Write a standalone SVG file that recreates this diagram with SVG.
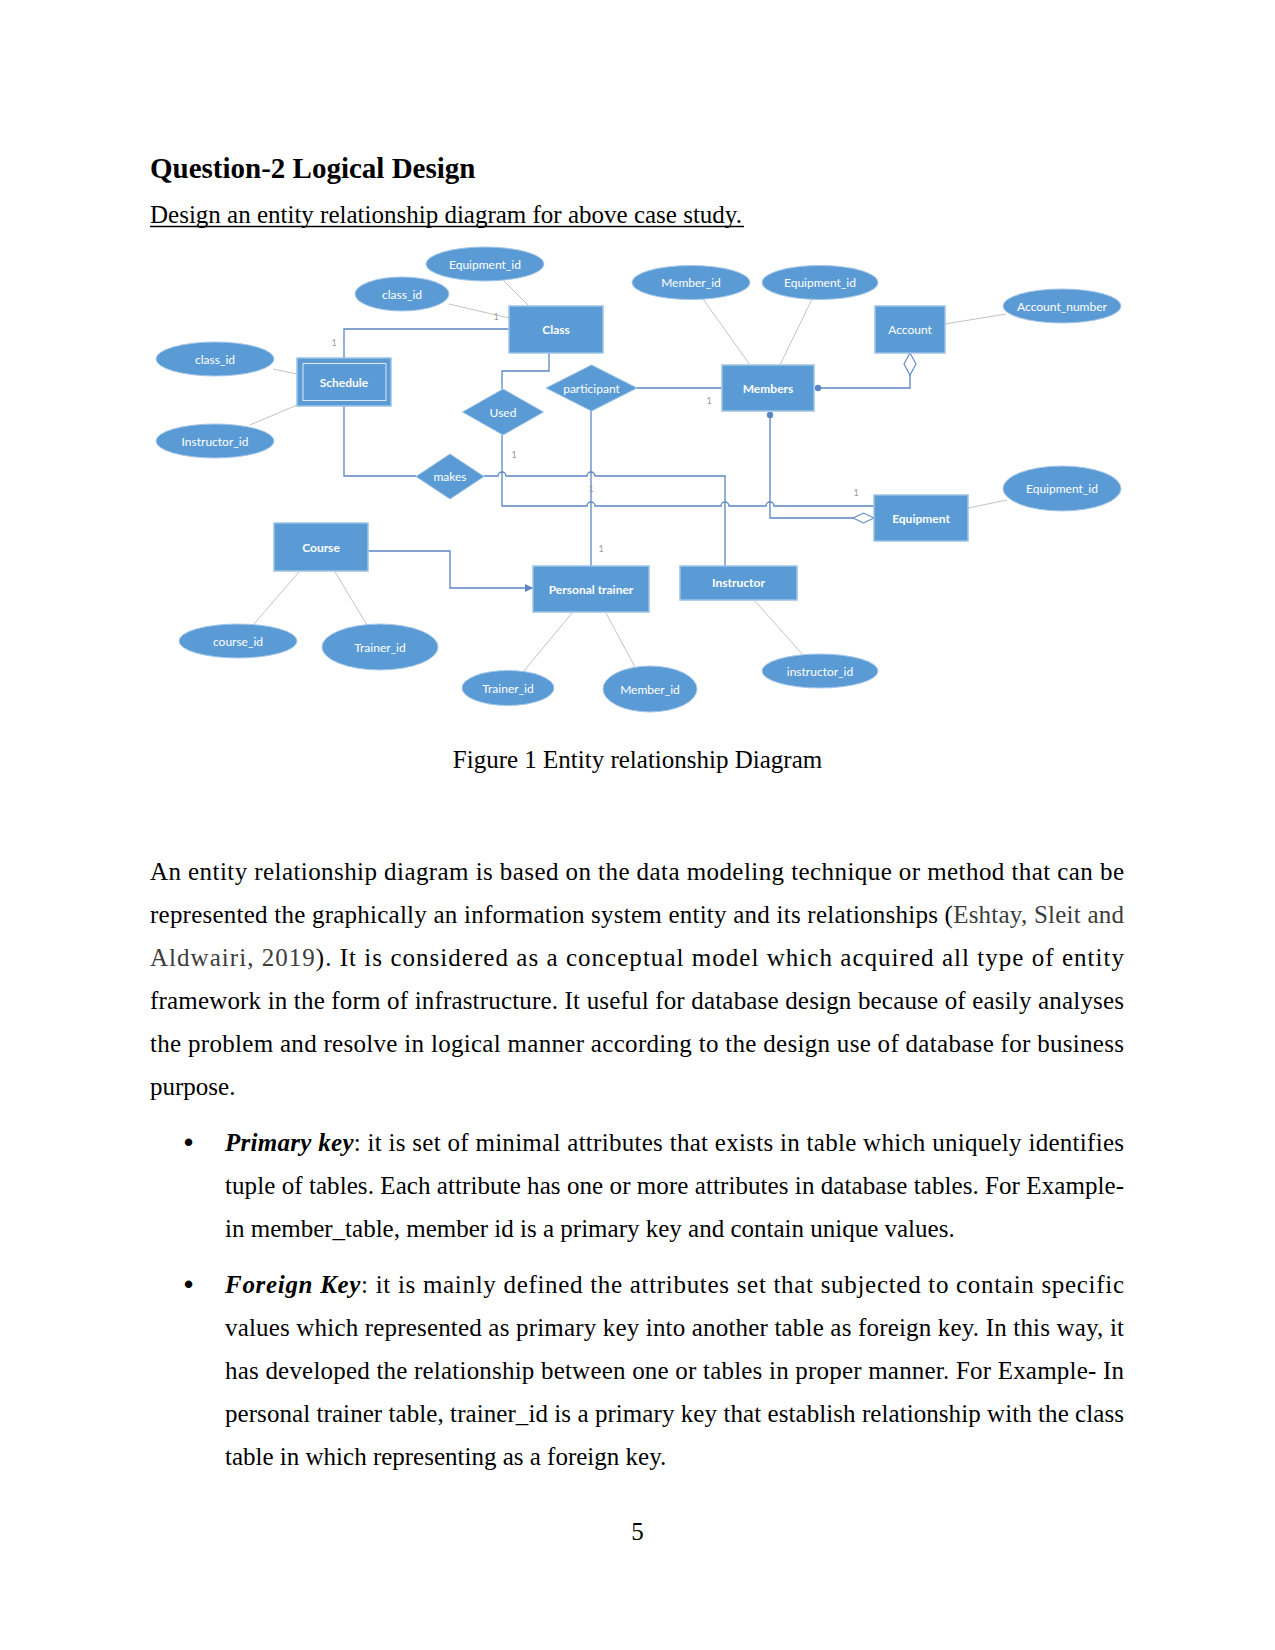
<svg xmlns="http://www.w3.org/2000/svg" width="1275" height="1650" viewBox="0 0 1275 1650">
<style>
  .doc { font-family: "Liberation Serif", "Times New Roman", serif; font-size: 25px; fill: #000; }
  .title { font-size: 29px; font-weight: bold; }
  .cite { fill: #3c3c3c; }
  .bi { font-weight: bold; font-style: italic; }
  .bullet { font-family: "Liberation Sans", Arial, sans-serif; font-size: 26px; font-weight: bold; }
  .ent rect.box { fill: #5B9BD5; stroke: #9DC3E6; stroke-width: 1.5; }
  .ent text { font-family: Lato, "Open Sans", sans-serif; font-size: 12px; font-weight: bold; fill: #fff; text-anchor: middle; dominant-baseline: central; }
  .ent text.reg { font-weight: normal; }
  .attr ellipse { fill: #5B9BD5; stroke: #A8C8EA; stroke-width: 1; }
  .attr text, .rel text { font-family: Lato, "Open Sans", sans-serif; font-size: 12px; fill: #fff; text-anchor: middle; dominant-baseline: central; }
  .rel polygon { fill: #5B9BD5; stroke: #9DC3E6; stroke-width: 1; }
  .conn path { fill: none; stroke: #5B86C4; stroke-width: 1.3; }
  .conn .dot { fill: #5B86C4; stroke: none; }
  .conn .hd { fill: #fff; stroke: #5B86C4; stroke-width: 1.1; }
  .alink line { stroke: #C3C3C3; stroke-width: 1; }
  .card { font-family: Lato, "Open Sans", sans-serif; font-size: 9px; fill: #9a9a9a; text-anchor: middle; }
</style>
<defs>
  <marker id="arr" viewBox="0 0 10 10" refX="10" refY="5" markerWidth="8" markerHeight="8" markerUnits="userSpaceOnUse" orient="auto">
    <path d="M0,0 L10,5 L0,10 z" fill="#5B86C4"/>
  </marker>
</defs>
<rect width="1275" height="1650" fill="#fff"/>

<!-- header -->
<text class="doc title" x="150" y="178">Question-2 Logical Design</text>
<text class="doc" x="150" y="223">Design an entity relationship diagram for above case study.</text>
<line x1="150" y1="226.5" x2="744" y2="226.5" stroke="#000" stroke-width="1.3"/>

<!-- attribute lines -->
<g class="alink" id="attribute-links">
  <line x1="449" y1="304" x2="509" y2="318"/>
  <line x1="504" y1="281" x2="529" y2="306"/>
  <line x1="273" y1="369" x2="297" y2="374"/>
  <line x1="250" y1="425" x2="297" y2="405"/>
  <line x1="703" y1="299" x2="750" y2="365"/>
  <line x1="812" y1="299" x2="780" y2="365"/>
  <line x1="945" y1="324" x2="1006" y2="314"/>
  <line x1="968" y1="508" x2="1007" y2="500"/>
  <line x1="299" y1="572" x2="253" y2="625"/>
  <line x1="335" y1="572" x2="367" y2="625"/>
  <line x1="572" y1="613" x2="523" y2="672"/>
  <line x1="606" y1="613" x2="636" y2="669"/>
  <line x1="755" y1="601" x2="803" y2="655"/>
</g>

<!-- connectors -->
<g class="conn" id="connectors">
  <path d="M509,329 H344 V358"/>
  <path d="M549,353 V371 H502 V389"/>
  <path d="M502,435 V506 H587 a4,4 0 0 1 8,0 H721 a4,4 0 0 1 8,0 H766 a4,4 0 0 1 8,0 H874"/>
  <path d="M344,406 V476 H416"/>
  <path d="M484,476 H498 a4,4 0 0 1 8,0 H587 a4,4 0 0 1 8,0 H725 V566"/>
  <path d="M591,411 V566"/>
  <path d="M637,388 H722"/>
  <circle class="dot" cx="818" cy="388" r="3.2"/>
  <path d="M818,388 H910 V375"/>
  <polygon class="hd" points="910,353 916,364 910,375 904,364"/>
  <circle class="dot" cx="770" cy="415" r="3.2"/>
  <path d="M770,415 V518 H853"/>
  <polygon class="hd" points="853,518 863.5,513 874,518 863.5,523"/>
  <path d="M368,551 H450 V588 H533" marker-end="url(#arr)"/>
</g>

<!-- cardinality labels -->
<g id="cardinalities">
  <text class="card" x="496" y="320">1</text>
  <text class="card" x="334" y="346">1</text>
  <text class="card" x="514" y="458">1</text>
  <text class="card" x="591" y="492">1</text>
  <text class="card" x="601" y="552">1</text>
  <text class="card" x="709" y="404">1</text>
  <text class="card" x="856" y="496">1</text>
</g>

<!-- entities -->
<g class="ent" id="class"><rect class="box" x="509" y="306" width="94" height="47"/><text x="556" y="329.5">Class</text></g>
<g class="ent" id="schedule"><rect class="box" x="297" y="358" width="94" height="48"/><rect x="303" y="363.5" width="83" height="37" fill="none" stroke="#DCE9F6" stroke-width="1"/><text x="344" y="382">Schedule</text></g>
<g class="ent" id="account"><rect class="box" x="875" y="306" width="70" height="47"/><text class="reg" x="910" y="329.5">Account</text></g>
<g class="ent" id="members"><rect class="box" x="722" y="365" width="92" height="46"/><text x="768" y="388">Members</text></g>
<g class="ent" id="equipment"><rect class="box" x="874" y="495" width="94" height="46"/><text x="921" y="518">Equipment</text></g>
<g class="ent" id="course"><rect class="box" x="274" y="523" width="94" height="48"/><text x="321" y="547">Course</text></g>
<g class="ent" id="personal-trainer"><rect class="box" x="533" y="566" width="116" height="46"/><text x="591" y="589">Personal trainer</text></g>
<g class="ent" id="instructor"><rect class="box" x="680" y="566" width="117" height="34"/><text x="738.5" y="582">Instructor</text></g>

<!-- relationships -->
<g class="rel" id="participant"><polygon points="546,388 591.5,365 637,388 591.5,411"/><text x="591.5" y="388">participant</text></g>
<g class="rel" id="used"><polygon points="462.5,412 503,389 543.5,412 503,435"/><text x="503" y="412">Used</text></g>
<g class="rel" id="makes"><polygon points="416,476.5 450,454 484,476.5 450,499"/><text x="450" y="476.5">makes</text></g>

<!-- attributes -->
<g class="attr" id="attr-class-equipment-id"><ellipse cx="485" cy="264" rx="59" ry="17"/><text x="485" y="264">Equipment_id</text></g>
<g class="attr" id="attr-class-class-id"><ellipse cx="402" cy="294" rx="47" ry="17"/><text x="402" y="294">class_id</text></g>
<g class="attr" id="attr-members-member-id"><ellipse cx="691" cy="282.5" rx="59" ry="17"/><text x="691" y="282.5">Member_id</text></g>
<g class="attr" id="attr-members-equipment-id"><ellipse cx="820" cy="282.5" rx="58" ry="17"/><text x="820" y="282.5">Equipment_id</text></g>
<g class="attr" id="attr-account-number"><ellipse cx="1062" cy="306" rx="59" ry="17"/><text x="1062" y="306">Account_number</text></g>
<g class="attr" id="attr-schedule-class-id"><ellipse cx="215" cy="359" rx="59" ry="17"/><text x="215" y="359">class_id</text></g>
<g class="attr" id="attr-schedule-instructor-id"><ellipse cx="215" cy="441" rx="59" ry="17"/><text x="215" y="441">Instructor_id</text></g>
<g class="attr" id="attr-equipment-id"><ellipse cx="1062" cy="488.5" rx="59" ry="22.5"/><text x="1062" y="488.5">Equipment_id</text></g>
<g class="attr" id="attr-course-id"><ellipse cx="238" cy="641" rx="59" ry="17"/><text x="238" y="641">course_id</text></g>
<g class="attr" id="attr-course-trainer-id"><ellipse cx="380" cy="647" rx="58" ry="23"/><text x="380" y="647">Trainer_id</text></g>
<g class="attr" id="attr-pt-trainer-id"><ellipse cx="508" cy="688" rx="46" ry="17.5"/><text x="508" y="688">Trainer_id</text></g>
<g class="attr" id="attr-pt-member-id"><ellipse cx="650" cy="689" rx="47" ry="23"/><text x="650" y="689">Member_id</text></g>
<g class="attr" id="attr-instructor-id"><ellipse cx="820" cy="671" rx="58" ry="17"/><text x="820" y="671">instructor_id</text></g>

<!-- caption -->
<text class="doc" x="637.5" y="768" text-anchor="middle">Figure 1 Entity relationship Diagram</text>

<!-- body -->
<text class="doc" x="150" y="880" textLength="974" lengthAdjust="spacing">An entity relationship diagram is based on the data modeling technique or method that can be</text>
<text class="doc" x="150" y="923" textLength="974" lengthAdjust="spacing">represented the graphically an information system entity and its relationships (<tspan class="cite">Eshtay, Sleit and</tspan></text>
<text class="doc" x="150" y="966" textLength="974" lengthAdjust="spacing"><tspan class="cite">Aldwairi, 2019</tspan>). It is considered as a conceptual model which acquired all type of entity</text>
<text class="doc" x="150" y="1009" textLength="974" lengthAdjust="spacing">framework in the form of infrastructure. It useful for database design because of easily analyses</text>
<text class="doc" x="150" y="1052" textLength="974" lengthAdjust="spacing">the problem and resolve in logical manner according to the design use of database for business</text>
<text class="doc" x="150" y="1095">purpose.</text>

<text class="doc bullet" x="184" y="1151">•</text>
<text class="doc" x="225" y="1151" textLength="899" lengthAdjust="spacing"><tspan class="bi">Primary key</tspan>: it is set of minimal attributes that exists in table which uniquely identifies</text>
<text class="doc" x="225" y="1194" textLength="899" lengthAdjust="spacing">tuple of tables. Each attribute has one or more attributes in database tables. For Example-</text>
<text class="doc" x="225" y="1237">in member_table, member id is a primary key and contain unique values.</text>

<text class="doc bullet" x="184" y="1293">•</text>
<text class="doc" x="225" y="1293" textLength="899" lengthAdjust="spacing"><tspan class="bi">Foreign Key</tspan>: it is mainly defined the attributes set that subjected to contain specific</text>
<text class="doc" x="225" y="1336" textLength="899" lengthAdjust="spacing">values which represented as primary key into another table as foreign key. In this way, it</text>
<text class="doc" x="225" y="1379" textLength="899" lengthAdjust="spacing">has developed the relationship between one or tables in proper manner. For Example- In</text>
<text class="doc" x="225" y="1422" textLength="899" lengthAdjust="spacing">personal trainer table, trainer_id is a primary key that establish relationship with the class</text>
<text class="doc" x="225" y="1465">table in which representing as a foreign key.</text>

<text class="doc" x="637.5" y="1540" text-anchor="middle">5</text>
</svg>
